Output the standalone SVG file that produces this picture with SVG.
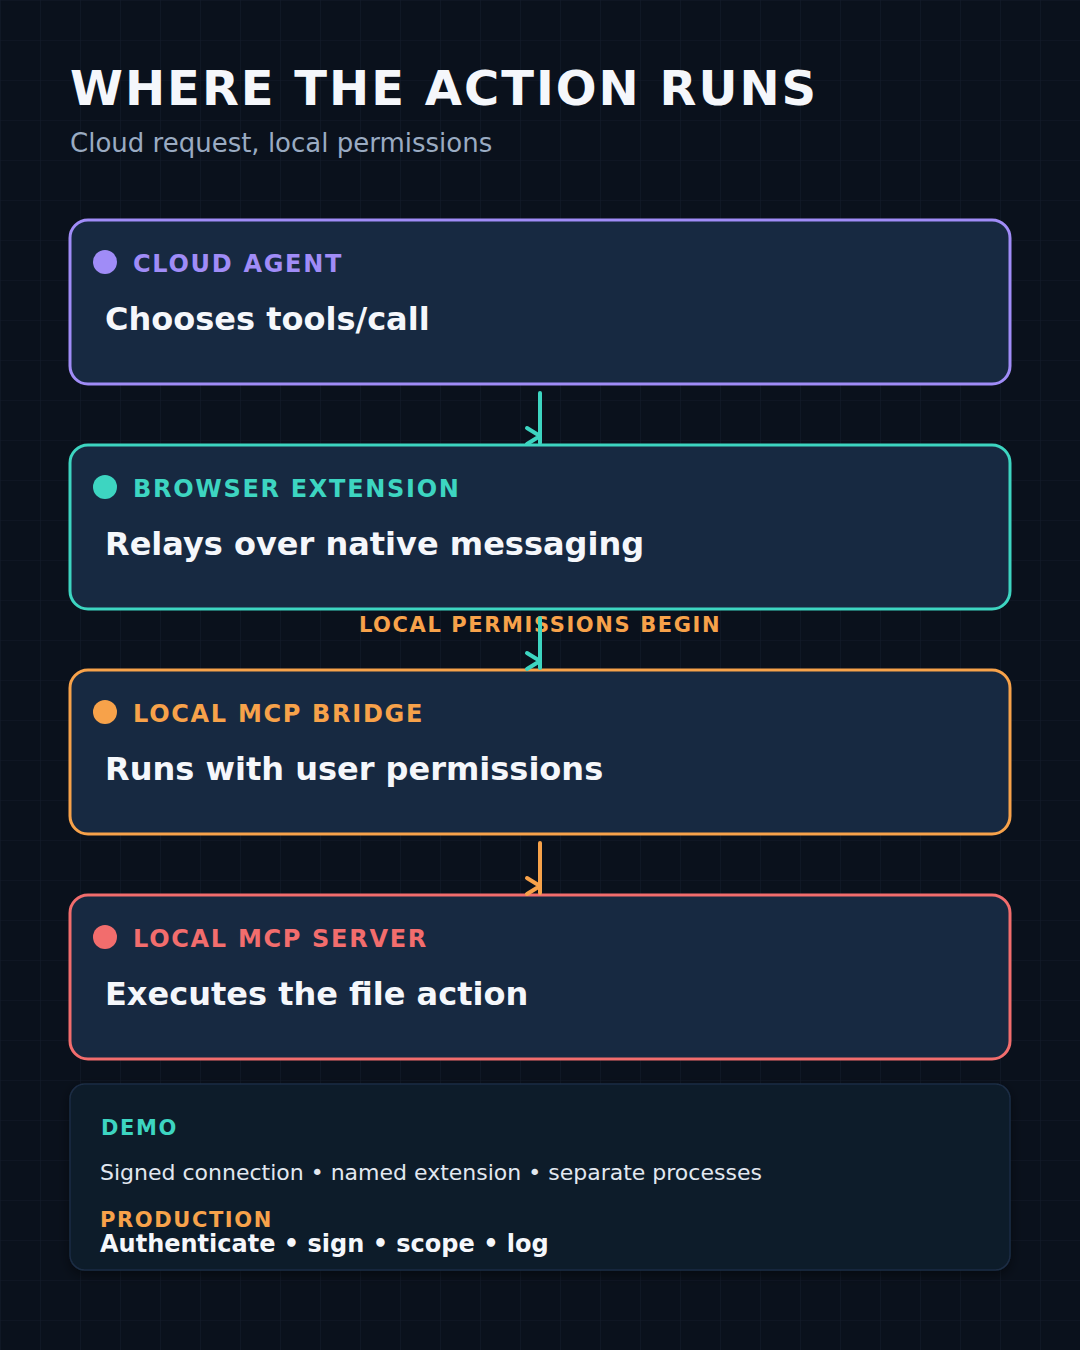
<svg xmlns="http://www.w3.org/2000/svg" width="1080" height="1350" viewBox="0 0 1080 1350">
  <defs>
    <pattern id="grid" width="40" height="40" patternUnits="userSpaceOnUse">
      <path d="M40 0 H0 V40" fill="none" stroke="#131c2a" stroke-width="1.2"/>
    </pattern>
    <filter id="shadow" x="-10%" y="-20%" width="120%" height="140%">
      <feDropShadow dx="0" dy="4" stdDeviation="6" flood-color="#000000" flood-opacity="0.45"/>
    </filter>
  </defs>
  <style>
    .card { fill: #172941; stroke-width: 3; }
    .kicker { font-family: "DejaVu Sans", Verdana, sans-serif; font-weight: bold; font-size: 24px; letter-spacing: 1.7px; }
    .main { font-family: "DejaVu Sans", Verdana, sans-serif; font-weight: bold; font-size: 32px; fill: #f5f7fb; }
    .small { font-family: "DejaVu Sans", Verdana, sans-serif; font-weight: bold; font-size: 21px; letter-spacing: 1.6px; }
    .conn { fill: none; stroke-width: 4; stroke-linecap: round; stroke-linejoin: round; }
    .teal { stroke: #3dd5c1; }
    .orange { stroke: #f7a24a; }
  </style>
  <rect width="1080" height="1350" fill="#0a111c"/>
  <rect width="1080" height="1350" fill="url(#grid)"/>

  <g id="title">
    <text x="70" y="105" font-family="DejaVu Sans, Verdana, sans-serif" font-weight="bold" font-size="48" letter-spacing="2" fill="#f5f7fb">WHERE THE ACTION RUNS</text>
    <text x="70" y="152" font-family="DejaVu Sans, Verdana, sans-serif" font-size="26" fill="#9aabc2">Cloud request, local permissions</text>
  </g>

  <g id="node-cloud-agent">
    <rect class="card" x="70" y="220" width="940" height="164" rx="18" stroke="#a08cf7"/>
    <circle cx="105" cy="262" r="12" fill="#a08cf7"/>
    <text class="kicker" x="133" y="272" fill="#a08cf7">CLOUD AGENT</text>
    <text class="main" x="105" y="330">Chooses tools/call</text>
  </g>

  <g id="node-browser-extension">
    <rect class="card" x="70" y="445" width="940" height="164" rx="18" stroke="#3dd5c1"/>
    <circle cx="105" cy="487" r="12" fill="#3dd5c1"/>
    <text class="kicker" x="133" y="497" fill="#3dd5c1">BROWSER EXTENSION</text>
    <text class="main" x="105" y="555">Relays over native messaging</text>
  </g>

  <g id="node-local-mcp-bridge">
    <rect class="card" x="70" y="670" width="940" height="164" rx="18" stroke="#f7a24a"/>
    <circle cx="105" cy="712" r="12" fill="#f7a24a"/>
    <text class="kicker" x="133" y="722" fill="#f7a24a">LOCAL MCP BRIDGE</text>
    <text class="main" x="105" y="780">Runs with user permissions</text>
  </g>

  <g id="node-local-mcp-server">
    <rect class="card" x="70" y="895" width="940" height="164" rx="18" stroke="#f26d6d"/>
    <circle cx="105" cy="937" r="12" fill="#f26d6d"/>
    <text class="kicker" x="133" y="947" fill="#f26d6d">LOCAL MCP SERVER</text>
    <text class="main" x="105" y="1005">Executes the file action</text>
  </g>

  <g id="connectors">
    <path class="conn teal" d="M540 393 V443"/>
    <path class="conn teal" d="M527 428 L540 436 L527 444"/>
    <text class="small" x="540" y="632" text-anchor="middle" fill="#f7a24a">LOCAL PERMISSIONS BEGIN</text>
    <path class="conn teal" d="M540 618 V668"/>
    <path class="conn teal" d="M527 653 L540 661 L527 669"/>
    <path class="conn orange" d="M540 843 V893"/>
    <path class="conn orange" d="M527 878 L540 886 L527 894"/>
  </g>

  <g id="notes">
    <rect x="70" y="1084" width="940" height="186" rx="15" fill="#0f1b2b" stroke="#1c2d44" stroke-width="1.5" filter="url(#shadow)"/>
    <text class="small" x="101" y="1135" fill="#3dd5c1">DEMO</text>
    <text x="100" y="1180" font-family="DejaVu Sans, Verdana, sans-serif" font-size="22" fill="#e2e8f0">Signed connection • named extension • separate processes</text>
    <text class="small" x="100" y="1227" fill="#f7a24a">PRODUCTION</text>
    <text x="100" y="1252" font-family="DejaVu Sans, Verdana, sans-serif" font-weight="bold" font-size="24" fill="#f5f7fb">Authenticate • sign • scope • log</text>
  </g>
</svg>
